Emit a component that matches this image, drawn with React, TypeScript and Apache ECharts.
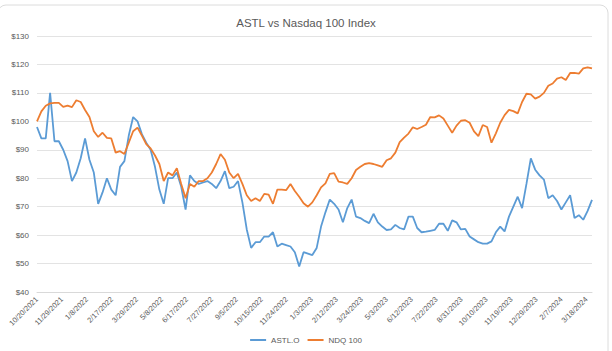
import React, { useEffect, useRef } from 'react';
import * as echarts from 'echarts';

const TITLE = 'ASTL vs Nasdaq 100 Index';
const SERIES_NAMES = ['ASTL.O', 'NDQ 100'];
const COLORS = ['#5B9BD5', '#ED7D31'];
// first observation: 10/20/2021, one observation per week
const START_UTC = Date.UTC(2021, 9, 20);
const STEP_DAYS = 7;
const X_LABEL_INTERVAL_DAYS = 40;
const Y_MIN = 40;
const Y_MAX = 130;
const Y_INTERVAL = 10;

const astl = [
  98, 94, 94, 110, 93, 93, 90, 86, 79, 82,
  87, 94, 86.5, 82, 71, 75, 80, 76, 74, 84,
  86, 95, 101.5, 100, 95.5, 92.5, 90, 84, 76, 71,
  80, 80, 82, 77, 69, 81, 79, 78, 78.5, 79,
  78, 76.5, 79, 82.5, 76.5, 77, 79, 71.5, 62, 55.5,
  57.5, 57.5, 59.5, 59.5, 61, 56, 57, 56.5, 56, 54,
  49, 54, 53.5, 53, 55.5, 63, 68, 72.5, 71, 69,
  64.5, 69.5, 72.5, 66.5, 66, 65, 64.2, 67.5, 64.5, 63,
  61.8, 62, 63.6, 62.5, 62, 66.5, 66.5, 62.5, 61, 61.2,
  61.5, 61.8, 64, 64, 61.5, 65.2, 64.5, 62, 62.2, 59.5,
  58.5, 57.5, 57, 57, 57.8, 61, 63, 61.3, 66.5, 70,
  73.5, 69.5, 78, 87, 83, 81, 79.5, 73, 74, 72,
  69, 71.5, 74, 66, 67, 65.4, 68.5, 72.4,
];

const ndq = [
  100, 103.5, 105.5, 106.3, 106.5, 106.5, 105.1, 105.5, 105, 107.4,
  106.8, 104, 101.5, 96.5, 94.5, 96, 94.2, 94, 89, 89.5,
  88.5, 92.5, 96.5, 97.8, 95, 92, 90.5, 88, 85, 79,
  82, 81, 83.5, 78, 73, 78, 77, 79, 79, 80,
  82, 85, 88.5, 86.5, 82, 80, 81.5, 78, 74, 72,
  73, 72, 74.5, 74.2, 71, 76, 76, 75.8, 78, 75.5,
  73.5, 71.2, 70, 71.5, 74, 76.8, 78.2, 81.5, 81.8, 78.8,
  78.5, 78, 80, 82.9, 84, 85, 85.3, 85, 84.5, 84,
  86.3, 87, 89, 92.7, 94.3, 95.7, 97.9, 97.3, 98, 98.8,
  101.5, 101.4, 102.1, 101, 98.5, 96, 98.5, 100.2, 100.4, 99.5,
  96.5, 94.8, 98.7, 98, 92.5, 95.8, 99.5, 102.2, 104, 103.6,
  102.8, 106.8, 109.7, 109.5, 108, 108.7, 110, 112.5, 113.3, 115,
  115.5, 114.5, 117, 117, 116.8, 118.6, 119, 118.6,
];

const dayOffsets = astl.map((_, i) => i * STEP_DAYS);

function fmtDate(day: number): string {
  const d = new Date(START_UTC + day * 86400000);
  return `${d.getUTCMonth() + 1}/${d.getUTCDate()}/${d.getUTCFullYear()}`;
}

const FONT = '"Liberation Sans", Arial, sans-serif';

export default function App() {
  const ref = useRef<HTMLDivElement>(null);
  useEffect(() => {
    document.body.style.margin = '0';
    if (!ref.current) return;
    const chart = echarts.init(ref.current, undefined, { renderer: 'svg' });
    const lastDay = dayOffsets[dayOffsets.length - 1];
    chart.setOption({
      animation: false,
      backgroundColor: '#ffffff',
      textStyle: { fontFamily: FONT },
      title: {
        text: TITLE,
        left: 'center',
        top: 12,
        textStyle: { fontSize: 11.5, fontWeight: 'normal', color: '#595959', fontFamily: FONT },
      },
      graphic: [
        {
          type: 'rect',
          silent: true,
          shape: { x: -2, y: 5, width: 610, height: 360, r: 8 },
          style: { fill: 'none', stroke: '#dcdcdc', lineWidth: 1 },
        },
      ],
      legend: {
        bottom: 2,
        left: 'center',
        itemWidth: 16,
        itemHeight: 2,
        itemGap: 8,
        icon: 'rect',
        textStyle: { fontSize: 8, color: '#595959', fontFamily: FONT },
        data: SERIES_NAMES,
      },
      grid: { left: 37, right: 20, top: 36, bottom: 59 },
      xAxis: {
        type: 'value',
        min: 0,
        max: lastDay,
        interval: X_LABEL_INTERVAL_DAYS,
        axisLine: { show: true, lineStyle: { color: '#d9d9d9' } },
        axisTick: { show: false },
        splitLine: { show: false },
        axisLabel: {
          rotate: 45,
          fontSize: 7.5,
          color: '#595959',
          margin: 6,
          showMaxLabel: false,
          formatter: (v: number) => (v % X_LABEL_INTERVAL_DAYS === 0 ? fmtDate(v) : ''),
        },
      },
      yAxis: {
        type: 'value',
        min: Y_MIN,
        max: Y_MAX,
        interval: Y_INTERVAL,
        axisLine: { show: false },
        axisTick: { show: false },
        splitLine: { lineStyle: { color: '#e3e3e3', width: 1 } },
        axisLabel: {
          fontSize: 8,
          color: '#595959',
          margin: 8,
          formatter: (v: number) => `$${v}`,
        },
      },
      series: [
        {
          name: SERIES_NAMES[0],
          type: 'line',
          data: astl.map((v, i) => [dayOffsets[i], v]),
          showSymbol: false,
          lineStyle: { color: COLORS[0], width: 1.8 },
          itemStyle: { color: COLORS[0] },
        },
        {
          name: SERIES_NAMES[1],
          type: 'line',
          data: ndq.map((v, i) => [dayOffsets[i], v]),
          showSymbol: false,
          lineStyle: { color: COLORS[1], width: 1.8 },
          itemStyle: { color: COLORS[1] },
        },
      ],
    });
    return () => chart.dispose();
  }, []);
  return <div ref={ref} style={{ width: 612, height: 351 }} />;
}
